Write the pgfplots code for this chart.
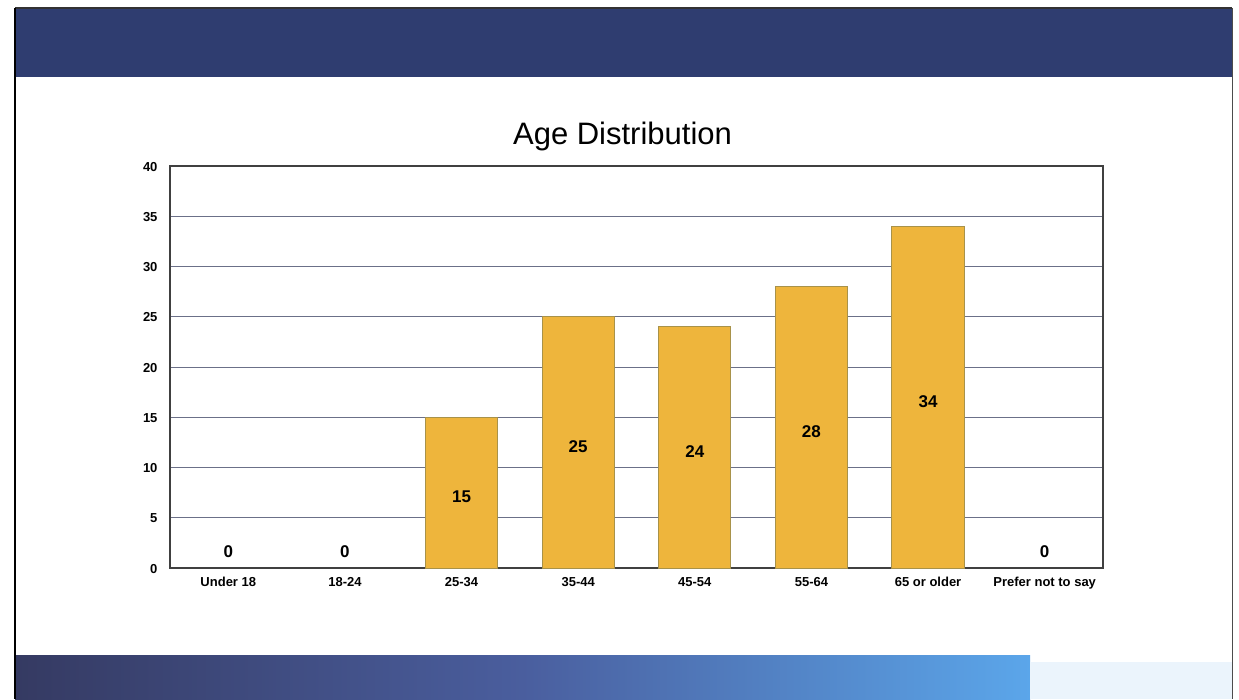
\documentclass[border=0pt]{standalone}
\usepackage{pgfplots}
\pgfplotsset{compat=1.18}
\usepackage{pgfplotstable}
\usepackage{fontspec}
\setmainfont{Liberation Sans}
\definecolor{barfill}{HTML}{EEB53C}
\definecolor{baredge}{HTML}{A8924A}
\definecolor{gridc}{HTML}{6B7088}
\definecolor{topband}{HTML}{2F3D70}
\definecolor{botL}{HTML}{353A62}
\definecolor{botM}{HTML}{4A5E9E}
\definecolor{botR}{HTML}{5BA6EA}

\pgfplotstableread{
x v
0 0
1 0
2 15
3 25
4 24
5 28
6 34
7 0
}\agedata

\begin{document}
\begin{tikzpicture}[x=1pt,y=1pt]
% slide background
\fill[white] (0,0) rectangle (1239,-699);
\fill[topband] (15,-8) rectangle (1232,-77);
\draw[black!80,line width=2pt] (15,-8) -- (1232,-8);
\shade[left color=botL, right color=botR, middle color=botM] (15,-655) rectangle (1030,-699);
\fill[botR!12] (1030,-662) rectangle (1232,-699);
\draw[black,line width=1.5pt] (15,-8) -- (15,-699);
\draw[black!70,line width=1pt] (1232,-8) -- (1232,-699);

\begin{axis}[
  at={(170pt,-568pt)}, anchor=south west,
  scale only axis, width=933pt, height=402pt,
  xmin=-0.5, xmax=7.5, ymin=0, ymax=40,
  xtick={0,...,7},
  xticklabels={Under 18, 18-24, 25-34, 35-44, 45-54, 55-64, 65 or older, Prefer not to say},
  ytick={0,5,...,40},
  ymajorgrids=true,
  grid style={gridc, line width=1pt},
  axis line style={black!75, line width=1.2pt},
  major tick length=0pt,
  /pgf/number format/assume math mode=true,
  typeset ticklabels with strut,
  tick label style={font=\bfseries\fontsize{13}{13}\selectfont},
  yticklabel style={xshift=-9pt, yshift=-2.5pt},
  xticklabel style={yshift=-6pt},
  title={Age Distribution},
  title style={font=\fontsize{31}{32}\selectfont, yshift=6pt, xshift=-14pt},
]
\addplot[ybar, bar width=0.62, fill=barfill, draw=baredge, line width=1pt,
  y filter/.expression={y==0 ? nan : y}]
  table[x=x, y=v] {\agedata};
\addplot[only marks, mark=none, point meta=explicit,
  nodes near coords, nodes near coords align=center,
  every node near coord/.append style={font=\bfseries\fontsize{17}{17}\selectfont, anchor=center, yshift=-4pt}]
  table[x=x, y expr={max(\thisrow{v}/2,2)}, meta=v] {\agedata};
\end{axis}
\end{tikzpicture}
\end{document}
